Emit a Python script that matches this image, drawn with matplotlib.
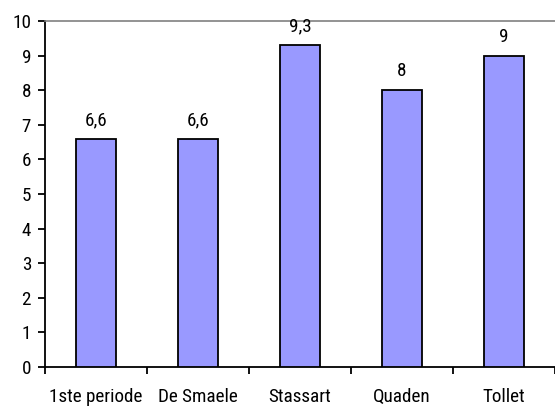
import matplotlib.pyplot as plt
from matplotlib import font_manager

categories = ['1ste periode', 'De Smaele', 'Stassart', 'Quaden', 'Tollet']
values = [6.6, 6.6, 9.3, 8, 9]
value_labels = ['6,6', '6,6', '9,3', '8', '9']

# look for a narrow font, the original uses something like Arial Narrow
fonts = font_manager.fontManager.ttflist
installed = {f.name for f in fonts}
family, stretch = None, 'normal'
for name in ['Liberation Sans Narrow', 'Roboto Condensed', 'Open Sans Condensed',
             'DejaVu Sans Condensed', 'Noto Sans Condensed']:
    if name in installed:
        family = name
        break
if family is None:
    narrow = [f for f in fonts if 'condensed' in str(f.stretch) or 'Narrow' in f.name]
    if narrow:
        family, stretch = narrow[0].name, narrow[0].stretch
    else:
        family = 'Roboto'

plt.rcParams['font.family'] = [family, 'DejaVu Sans']
plt.rcParams['font.stretch'] = stretch
plt.rcParams['font.size'] = 13.8

fig = plt.figure(figsize=(5.55, 4.07), dpi=100)
W, H = 555, 407
# plot area in pixels: x from 45 (cropped at right), y=0 at 367, y=10 at 21
ax = fig.add_axes([45 / W, (H - 367) / H, (555 - 45) / W, (367 - 21) / H])

x = range(len(categories))
ax.bar(x, values, width=0.4, color='#9999ff', edgecolor='black', linewidth=1.3, zorder=3)

for i, (v, lab) in enumerate(zip(values, value_labels)):
    ax.annotate(lab, (i, v), xytext=(0, 7), textcoords='offset points',
                ha='center', va='bottom')

ax.set_xlim(-0.5, 4.5 - 10 / 104)
ax.set_ylim(0, 10)
ax.set_yticks(range(0, 11))

# ticks between categories, labels at the centres
ax.set_xticks([i - 0.5 for i in range(len(categories) + 1)])
ax.set_xticklabels([])
ax.set_xticks(list(x), minor=True)
ax.set_xticklabels(categories, minor=True)
ax.tick_params(axis='x', which='minor', length=0, pad=15)
ax.tick_params(axis='x', which='major', length=5, width=1.3)
ax.tick_params(axis='y', length=5, width=1.3, pad=5)

ax.spines['right'].set_visible(False)
ax.spines['top'].set_color('#808080')
ax.spines['top'].set_linewidth(1.2)
ax.spines['left'].set_linewidth(1.3)
ax.spines['bottom'].set_linewidth(1.3)

fig.savefig('out.png', dpi=100)
